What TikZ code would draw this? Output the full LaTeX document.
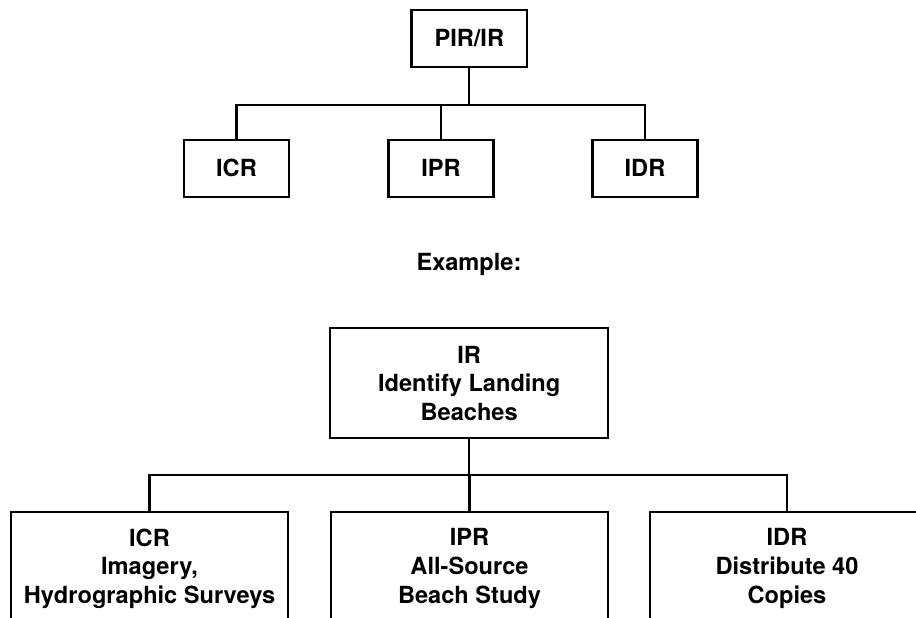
\documentclass[tikz,border=0pt]{standalone}
\usepackage{fontspec}
\setmainfont{TeX Gyre Heros}
\usetikzlibrary{positioning}
\newcommand{\chartfont}{\fontsize{23.6}{28.6}\selectfont\bfseries}
\tikzstyle{tree chart}=[
    x=1pt,y=-1pt,line width=2.1pt,
    every node/.style={font=\chartfont,inner sep=0pt},
    small box/.style={draw,minimum width=105pt,minimum height=56.7pt},
    big box/.style={draw,align=center,minimum width=277pt,inner ysep=17pt},
]

\begin{document}
\begin{tikzpicture}[tree chart]
        \useasboundingbox (0,0) rectangle (916,618);
        \clip (0,0) rectangle (916,618);

        % generic layout
        \node[small box, minimum width=115.6pt] (pir) at (469.3,38.3) {PIR/IR};
        \node[small box] (icr) at (236.5,168.3) {ICR};
        \node[small box] (ipr) at (441,168.3) {IPR};
        \node[small box] (idr) at (645,168.3) {IDR};

        \draw (pir.south) -- ++(0,37.3) coordinate (topsplit);
        \draw (icr.north) |- (topsplit) -| (idr.north);
        \draw (ipr.north) -- (ipr.north |- topsplit);

        \node (example) at (469,264) {Example:};

        % worked example
        \node[big box, minimum width=278.3pt, minimum height=110pt] (ir) at (469.2,383.3)
            {IR\\Identify Landing\\Beaches};
        \node[big box, anchor=north] (icrex) at (149.5,510.7)
            {ICR\\Imagery,\\Hydrographic Surveys};
        \node[big box, anchor=north] (iprex) at (469.5,510.7)
            {IPR\\All-Source\\Beach Study};
        \node[big box, anchor=north, minimum width=274pt] (idrex) at (787,510.7)
            {IDR\\Distribute 40\\Copies};

        \draw (ir.south) -- ++(0,36) coordinate (lowsplit);
        \draw (icrex.north) |- (lowsplit) -| (idrex.north);
        \draw (iprex.north) -- (iprex.north |- lowsplit);
    \end{tikzpicture}
\end{document}
